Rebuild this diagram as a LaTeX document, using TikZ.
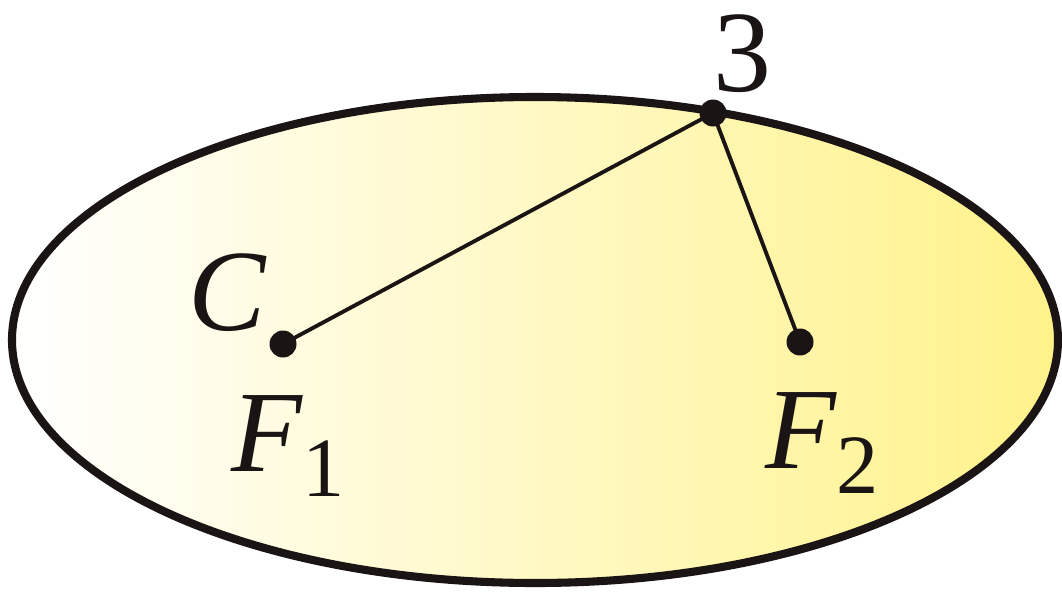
\documentclass[tikz,border=0pt]{standalone}
\usepackage{fontspec}
\setmainfont{Liberation Serif}
\usetikzlibrary{positioning}
\definecolor{ellyellow}{HTML}{FFF28A}
\definecolor{inkblack}{HTML}{1A1414}
\tikzset{
  dot/.style={circle, fill=inkblack, inner sep=0pt, minimum size=0.27cm},
  lbl/.style={inkblack, font=\fontsize{33}{33}\selectfont}
}
\newcommand{\subidx}[2]{\textit{#1}\raisebox{-0.22em}{\fontsize{24}{24}\selectfont #2}}

\begin{document}
\begin{tikzpicture}
\useasboundingbox (0,0) rectangle (10.62,6.14);

% Ellipse with left-to-right shading
\shade[left color=white, right color=ellyellow] (5.35,2.74) ellipse (5.23 and 2.43);
\draw[inkblack, line width=2.3pt] (5.35,2.74) ellipse (5.23 and 2.43);

% Foci and point on the curve
\node[dot] (f1) at (2.83,2.70) {};
\node[dot] (f2) at (8.00,2.72) {};
\node[dot] (p3) at (7.13,5.01) {};

% Segments
\draw[inkblack, line width=1.1pt] (f1.center) -- (p3.center);
\draw[inkblack, line width=1.1pt] (f2.center) -- (p3.center);

% Labels
\node[lbl] (c) at (2.28,3.21) {\textit{C}};
\node[lbl] (three) at (7.42,5.60) {3};
\node[lbl] (lf1) at (2.88,1.68) {\subidx{F}{1}};
\node[lbl] (lf2) at (8.22,1.71) {\subidx{F}{2}};

\end{tikzpicture}
\end{document}
